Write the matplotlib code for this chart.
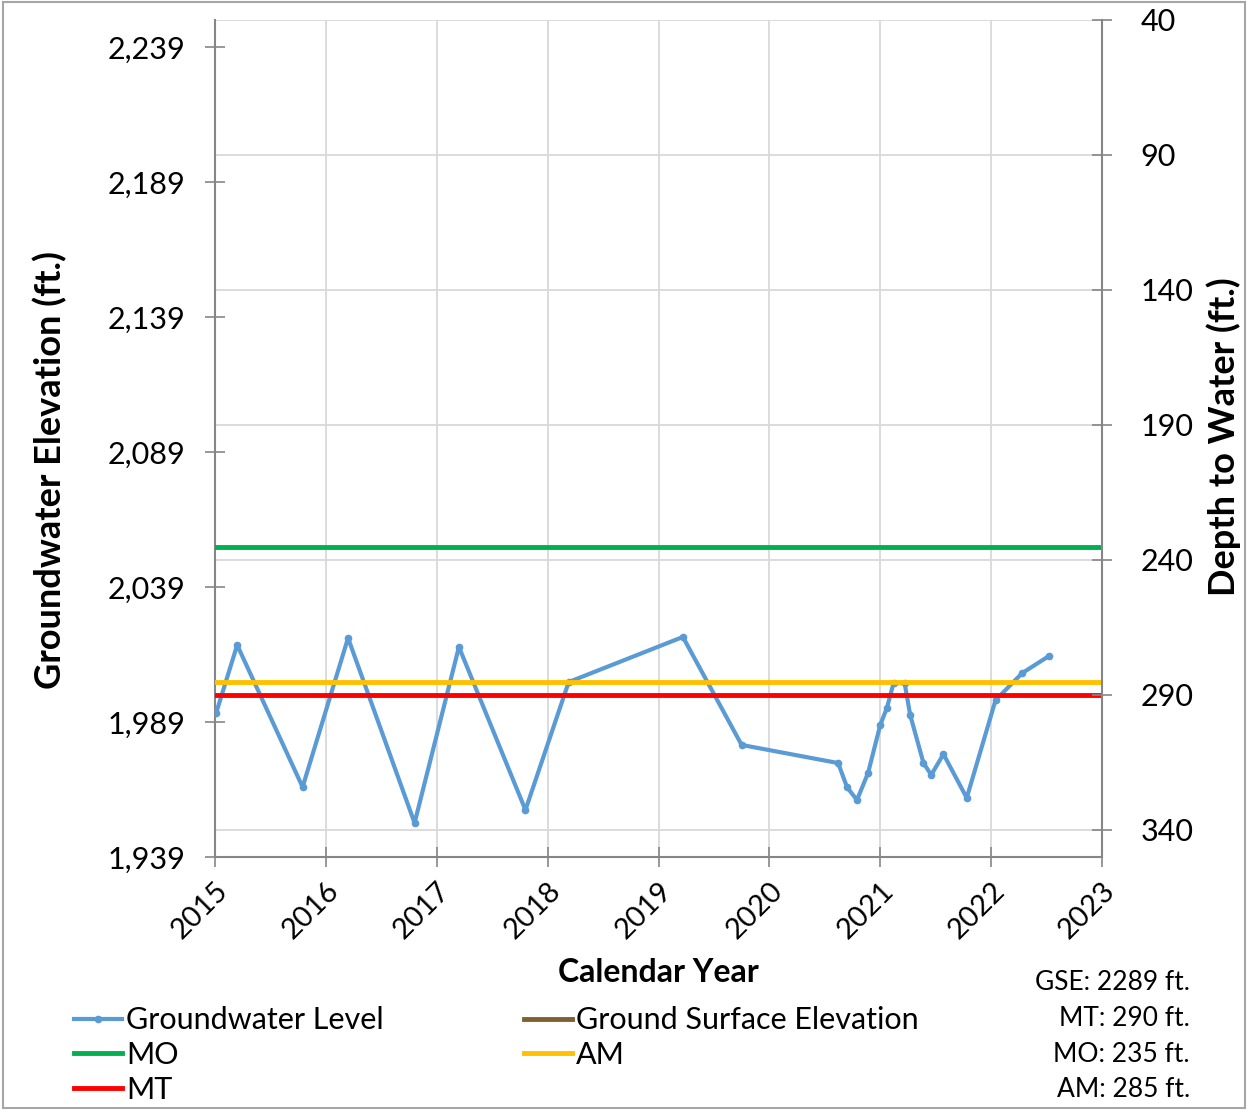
import matplotlib.pyplot as plt
from matplotlib.ticker import FuncFormatter
from matplotlib.patches import Rectangle

plt.rcParams['font.family'] = ['Lato', 'DejaVu Sans']

# groundwater level readings: decimal year and elevation (ft)
years = [2015.01, 2015.20, 2015.79, 2016.20, 2016.80, 2017.20, 2017.80, 2018.19,
         2019.22, 2019.75, 2020.62, 2020.70, 2020.79, 2020.89, 2021.00, 2021.06,
         2021.12, 2021.22, 2021.27, 2021.39, 2021.46, 2021.57, 2021.78, 2022.04,
         2022.28, 2022.52]
elevation = [1992.3, 2017.5, 1964.9, 2020.1, 1951.6, 2016.8, 1956.4, 2003.8,
             2020.5, 1980.5, 1973.8, 1964.9, 1960.1, 1970.1, 1987.9, 1994.2,
             2003.4, 2003.4, 1991.6, 1973.8, 1969.4, 1977.1, 1960.9, 1997.1,
             2007.1, 2013.4]

# thresholds
gse = 2289
mt_depth = 290
mo_depth = 235
am_depth = 285

left_ticks = [1939, 1989, 2039, 2089, 2139, 2189, 2239]
right_ticks = [40, 90, 140, 190, 240, 290, 340]
year_ticks = list(range(2015, 2024))

fig = plt.figure(figsize=(12.49, 11.18), dpi=100)
W, H = 1249, 1118
ax = fig.add_axes([215 / W, 1 - 857 / H, (1102 - 215) / W, (857 - 20) / H])

gwl, = ax.plot(years, elevation, color='#5B9BD5', lw=3, marker='o', ms=4.5,
               label='Groundwater Level', zorder=3)
gse_line = ax.axhline(gse, color='#7F6033', lw=3.5, label='Ground Surface Elevation', zorder=4)
mo_line = ax.axhline(gse - mo_depth, color='#00B050', lw=3.5, label='MO', zorder=4)
am_line = ax.axhline(gse - am_depth, color='#FFC000', lw=3.5, label='AM', zorder=4)
mt_line = ax.axhline(gse - mt_depth, color='#FF0000', lw=3.5, label='MT', zorder=4)

ax.set_xlim(2015, 2023)
ax.set_ylim(1939, 2249)
ax.set_xticks(year_ticks)
ax.set_yticks(left_ticks)
ax.yaxis.set_major_formatter(FuncFormatter(lambda v, p: f'{int(v):,}'))
# horizontal grid follows the depth axis
ax.set_yticks([gse - d for d in right_ticks], minor=True)
ax.grid(axis='x', color='#D9D9D9', lw=1.3)
ax.grid(axis='y', which='minor', color='#D9D9D9', lw=1.3)
ax.tick_params(axis='y', which='minor', length=0)
ax.tick_params(axis='y', which='major', direction='inout', length=15, width=1.2,
               color='#868686', pad=14, labelsize=22)
ax.tick_params(axis='x', direction='inout', length=15, width=1.2,
               color='#868686', pad=7, labelsize=21)
for lab in ax.get_xticklabels():
    lab.set_rotation(45)
    lab.set_ha('right')
    lab.set_va('top')
    lab.set_rotation_mode('anchor')
ax.spines['top'].set_visible(False)
ax.spines['right'].set_visible(False)
for s in ['left', 'bottom']:
    ax.spines[s].set_color('#868686')
    ax.spines[s].set_linewidth(1.5)

ax2 = ax.twinx()
ax2.set_ylim(gse - 1939, gse - 2249)
ax2.set_yticks(right_ticks)
ax2.tick_params(axis='y', direction='inout', length=15, width=1.2,
                color='#868686', pad=20, labelsize=22)
ax2.spines['top'].set_visible(False)
ax2.spines['left'].set_visible(False)
ax2.spines['bottom'].set_visible(False)
ax2.spines['right'].set_color('#868686')
ax2.spines['right'].set_linewidth(1.5)

fig.text(50 / W, 1 - 470 / H, 'Groundwater Elevation (ft.)', rotation=90,
         ha='center', va='center', fontsize=26, fontweight='bold')
fig.text(1224 / W, 1 - 437 / H, 'Depth to Water (ft.)', rotation=90,
         ha='center', va='center', fontsize=26, fontweight='bold')
fig.text(658 / W, 1 - 972 / H, 'Calendar Year', ha='center', va='center',
         fontsize=23, fontweight='bold')

notes = [f'GSE: {gse} ft.', f'MT: {mt_depth} ft.', f'MO: {mo_depth} ft.',
         f'AM: {am_depth} ft.']
for i, t in enumerate(notes):
    fig.text(1190 / W, 1 - (983 + i * 35.5) / H, t, ha='right', va='center',
             fontsize=19)

fig.legend(handles=[gwl, mo_line, mt_line, gse_line, am_line],
           loc='upper left', bbox_to_anchor=(62 / W, 1 - 994 / H), ncol=2,
           frameon=False, fontsize=22, handlelength=1.55, handletextpad=0.15,
           columnspacing=4.6, labelspacing=0.22, borderaxespad=0)

fig.patches.append(Rectangle((3 / W, 1 - 1108 / H), (1245 - 3) / W, (1108 - 2) / H,
                             transform=fig.transFigure, fill=False,
                             edgecolor='#A6A6A6', lw=1.5))

fig.savefig('out.png', dpi=100)
